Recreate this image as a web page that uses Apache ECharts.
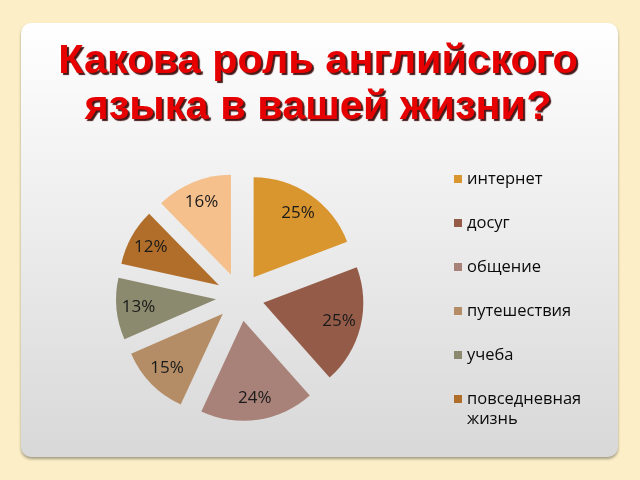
<!DOCTYPE html>
<html>
<head>
<meta charset="utf-8">
<script src="https://cdn.jsdelivr.net/npm/echarts@6/dist/echarts.min.js"></script>
<style>
html,body{margin:0;padding:0;background:#FCEFC8;}
#c{width:640px;height:480px;}
</style>
</head>
<body>
<div id="c"></div>
<script>
var categories = ['интернет', 'досуг', 'общение', 'путешествия', 'учеба', 'повседневная жизнь', 'другое'];
var values = [25, 25, 24, 15, 13, 12, 16];
var colors = ['#D9952E', '#945C48', '#A88279', '#B48D66', '#8C8A6E', '#B06E2A', '#F5C08C'];
var legendNames = categories.slice(0, 6);
var titleText = 'Какова роль английского\nязыка в вашей жизни?';

var chart = echarts.init(document.getElementById('c'), null, {renderer: 'canvas'});

var pieData = categories.map(function (n, i) {
  return {name: n, value: values[i], selected: true, itemStyle: {color: colors[i]}};
});
var labelData = categories.map(function (n, i) {
  return {name: n, value: values[i], selected: true};
});
var LH = 20;
var legendData = legendNames.map(function (n) {
  var lines = n.split(' ').length;
  var item = {name: n};
  if (lines > 1) {
    item.textStyle = {padding: [0, 0, -LH * (lines - 1), 0], rich: {w: {fontSize: 16.5}}};
  }
  return item;
});

chart.setOption({
  backgroundColor: '#FCEFC8',
  animation: false,
  graphic: [{
    type: 'rect',
    z: -10,
    shape: {x: 21, y: 23, width: 597, height: 434, r: 10},
    style: {
      fill: new echarts.graphic.LinearGradient(0, 0, 0, 1, [
        {offset: 0, color: '#FFFFFF'},
        {offset: 1, color: '#D8D8D8'}
      ]),
      shadowBlur: 3,
      shadowOffsetY: 2,
      shadowColor: 'rgba(0,0,0,0.35)'
    }
  }],
  title: {
    text: titleText,
    left: 313,
    top: 34,
    textAlign: 'center',
    textStyle: {
      fontFamily: 'Liberation Sans',
      fontWeight: 'bold',
      fontSize: 41.5,
      lineHeight: 46,
      color: '#E60000',
      textShadowColor: 'rgba(50,0,0,0.9)',
      textShadowOffsetX: 2,
      textShadowOffsetY: 2,
      textShadowBlur: 1
    }
  },
  legend: {
    data: legendData,
    orient: 'vertical',
    left: 454,
    top: 169,
    padding: 0,
    height: 300,
    itemWidth: 8,
    itemHeight: 8,
    itemGap: 24,
    icon: 'rect',
    selectedMode: false,
    formatter: function (name) { return name.replace(' ', '\n'); },
    textStyle: {
      fontFamily: 'Open Sans',
      fontSize: 16.5,
      lineHeight: LH,
      color: '#0A0A0A'
    }
  },
  series: [{
    type: 'pie',
    center: [240, 297],
    radius: [0, 100],
    startAngle: 90,
    clockwise: true,
    selectedMode: 'multiple',
    selectedOffset: 24,
    silent: true,
    label: {show: false},
    labelLine: {show: false},
    itemStyle: {borderWidth: 0},
    select: {itemStyle: {borderWidth: 0}},
    data: pieData
  }, {
    type: 'pie',
    center: [240, 297],
    radius: [0, 150],
    startAngle: 90,
    clockwise: true,
    selectedMode: 'multiple',
    selectedOffset: 24,
    silent: true,
    itemStyle: {color: 'rgba(0,0,0,0)', borderWidth: 0},
    select: {itemStyle: {color: 'rgba(0,0,0,0)', borderWidth: 0}},
    label: {
      show: true,
      position: 'inside',
      formatter: function (p) { return p.value + '%'; },
      fontFamily: 'Open Sans',
      fontSize: 17,
      color: '#1A1A1A'
    },
    labelLine: {show: false},
    data: labelData
  }]
});
</script>
</body>
</html>
